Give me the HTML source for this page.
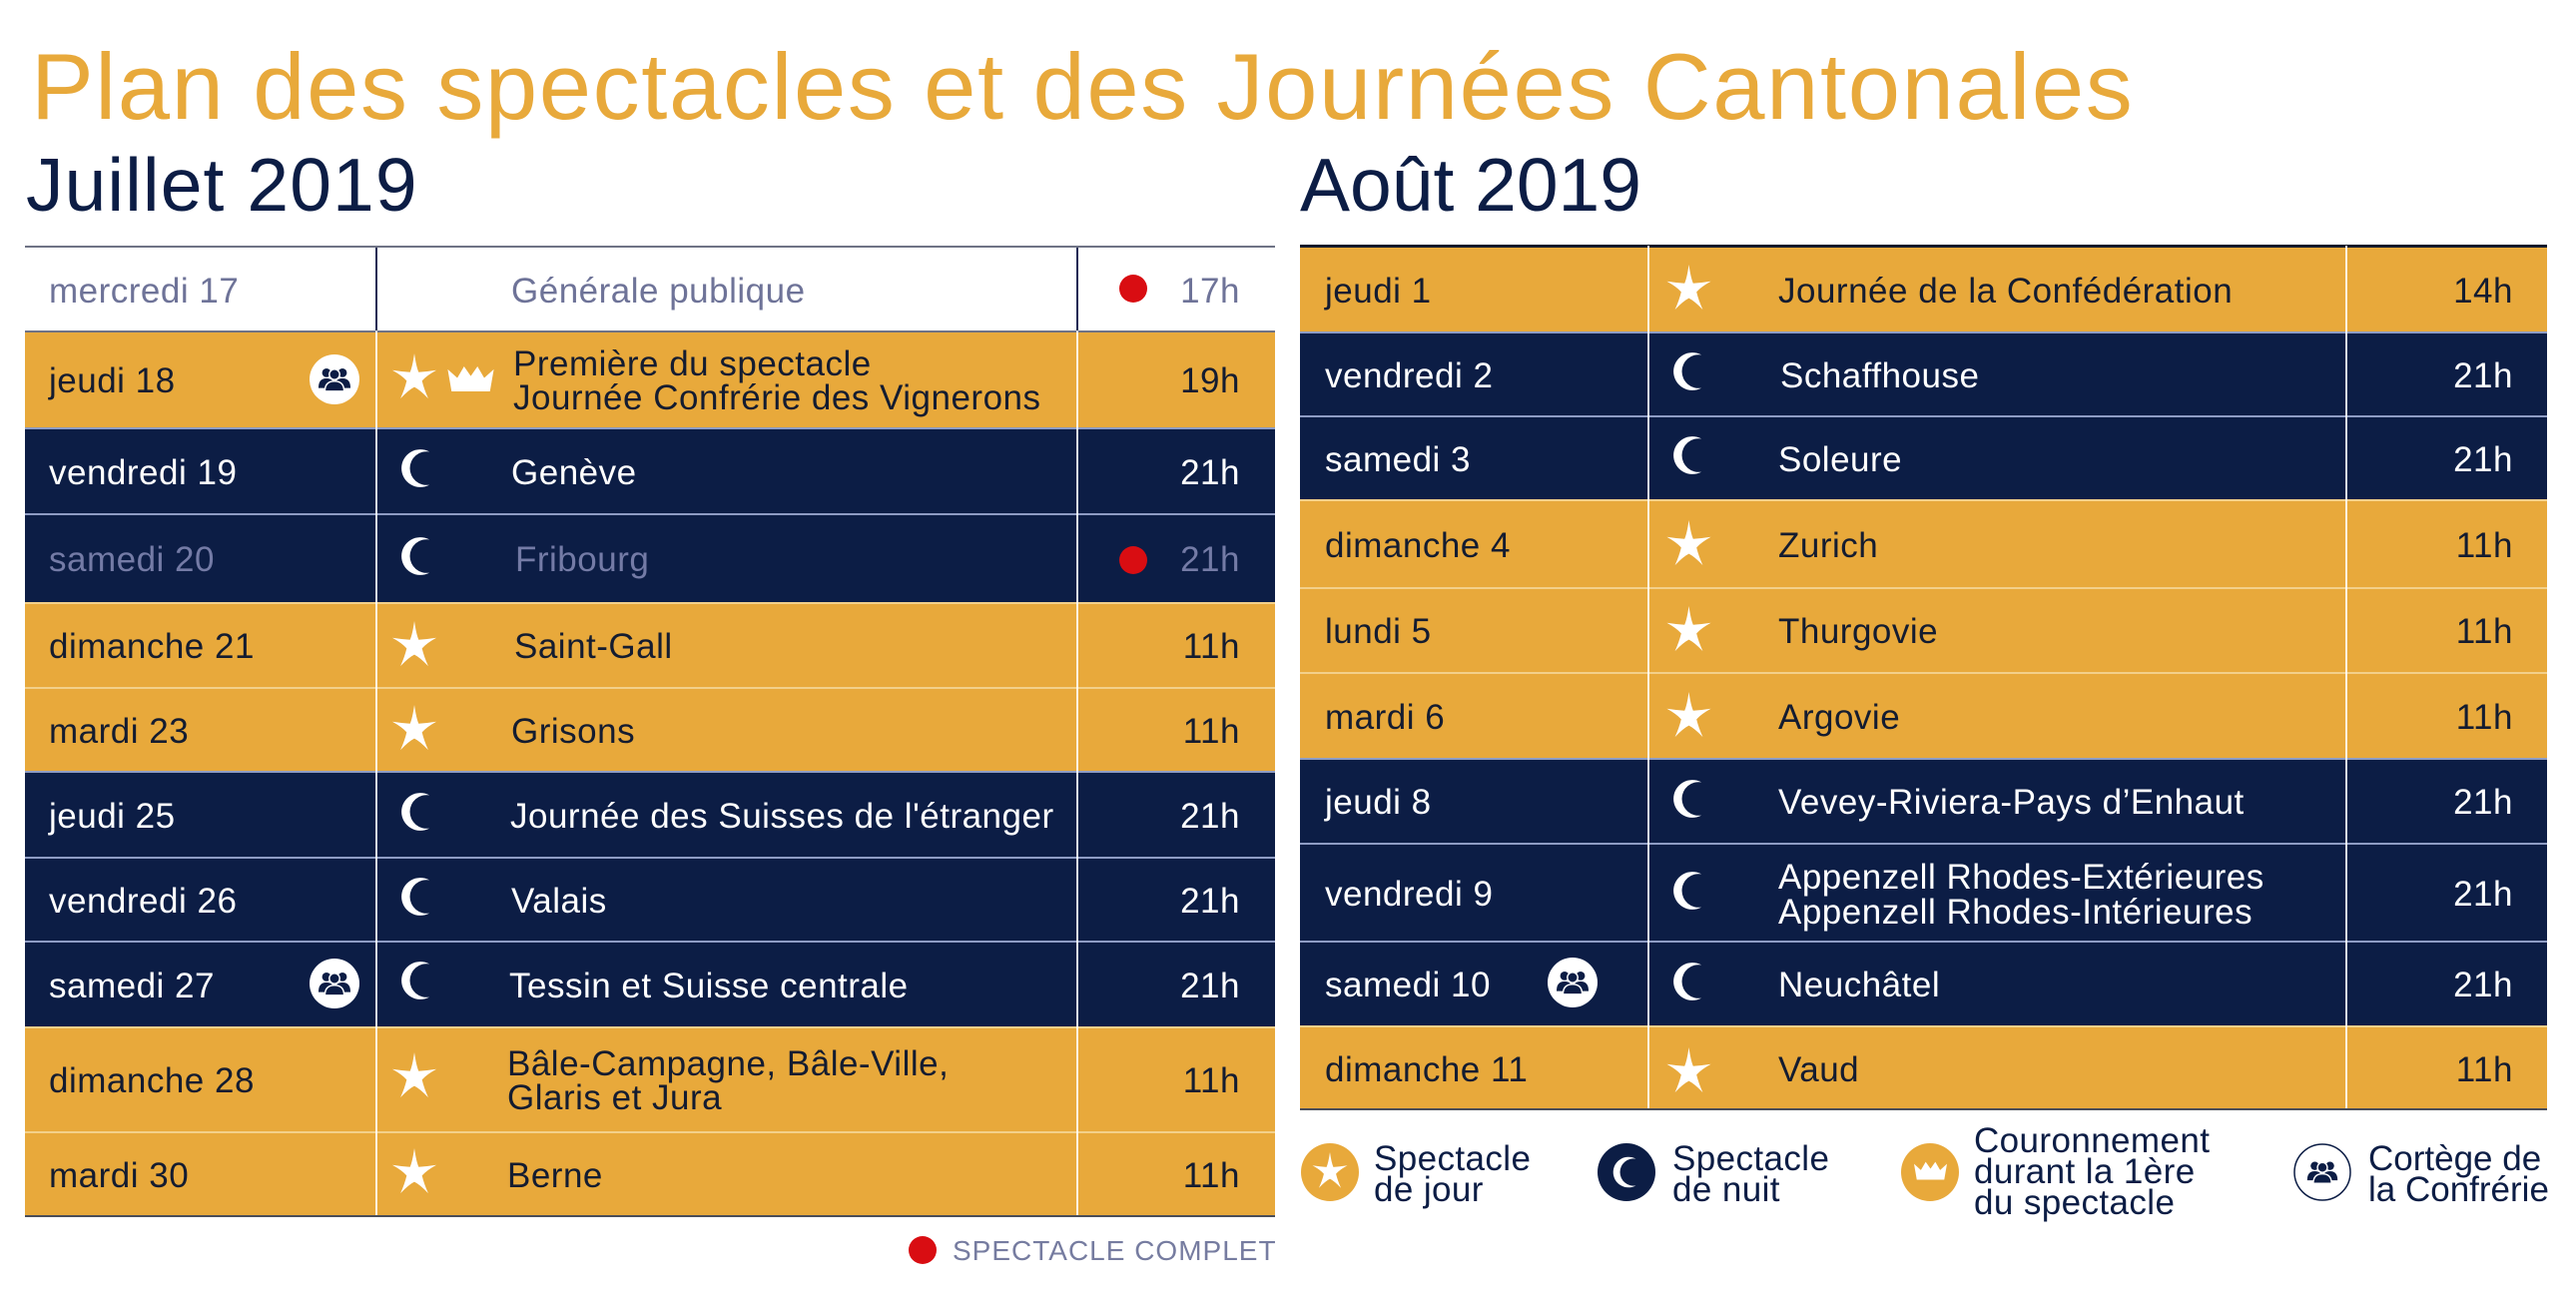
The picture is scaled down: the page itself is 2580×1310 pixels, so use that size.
<!DOCTYPE html>
<html><head><meta charset="utf-8">
<style>
*{box-sizing:border-box}
body{margin:0;width:2580px;height:1310px;background:#fff;position:relative;overflow:hidden;font-family:"Liberation Sans",sans-serif}
.a{position:absolute}
.title{position:absolute;left:31px;top:40px;font-size:94px;line-height:94px;color:#e8a93b;letter-spacing:1.6px;white-space:nowrap}
.month{position:absolute;top:148px;font-size:75px;line-height:75px;color:#0c1d45;white-space:nowrap}
.r{position:absolute;left:25px;width:1252px}
.ra{position:absolute;left:1302px;width:1249px}
.g{background:#e8a93b;color:#141c30;border-top:2px solid #f3d08a}
.n{background:#0c1d45;color:#fff;border-top:2px solid #8e9cc4}
.w{background:#fff;color:#6e7398}
.f{border-top:none}
.x{position:absolute;top:0;bottom:0;display:flex;align-items:center;padding-top:3px;font-size:35px;line-height:34px;letter-spacing:0.5px;white-space:nowrap}
.d{left:24px}
.ra .d{left:25px}
.e{left:487px}
.ra .e{left:479px}
.t{right:35px}
.ra .t{right:34px}
.gr{color:#747ba6}
.v{position:absolute;top:-2px;bottom:0;width:2px;background:rgba(255,255,255,.85)}
.w .v{background:#1d2a55;width:1.5px;top:0}
.ic{position:absolute}
.dot{position:absolute;width:28px;height:28px;border-radius:50%;background:#d90d12}
.lg{position:absolute;font-size:35px;line-height:31px;letter-spacing:0.4px;color:#0c1d45;white-space:nowrap}
</style></head><body>
<svg width="0" height="0" style="position:absolute">
<defs>
<symbol id="star" viewBox="0 0 50 50"><path fill="#fff" d="M25 0 Q27 14 29.5 19.5 Q38 19 48 17.5 Q38 23 33 28.5 Q35 37 39.5 47 Q31 38 25 35 Q19 38 10.5 47 Q15 37 17 28.5 Q12 23 2 17.5 Q12 19 20.5 19.5 Q23 14 25 0Z"/></symbol>
<symbol id="moon" viewBox="0 0 40 40"><path fill="#fff" d="M28.67 4.22 A18 18 0 1 0 28.67 35.78 A16 16 0 1 1 28.67 4.22Z"/></symbol>
<symbol id="crown" viewBox="0 0 48 26"><path fill="#fff" d="M0 3 L10 12 L17 0 L24 10 L31 0 L38 12 L48 3 L44 26 L4 26Z"/></symbol>
<symbol id="ppl" viewBox="0 0 50 50">
<circle cx="15" cy="18" r="5.5" fill="#0c1d45"/><circle cx="35" cy="18" r="5.5" fill="#0c1d45"/>
<path fill="#0c1d45" d="M5 37 C5 28 9 25 15 25 C21 25 25 28 25 37Z"/>
<path fill="#0c1d45" d="M25 37 C25 28 29 25 35 25 C41 25 45 28 45 37Z"/>
<circle cx="25" cy="20" r="6.5" fill="#0c1d45" stroke="#fff" stroke-width="1.8"/>
<path fill="#0c1d45" stroke="#fff" stroke-width="1.8" d="M13 41 C13 32 18 28.5 25 28.5 C32 28.5 37 32 37 41Z"/>
</symbol>
</defs></svg>

<div class="title">Plan des spectacles et des Journées Cantonales</div>
<div class="month" style="left:26px;letter-spacing:1.1px">Juillet 2019</div>
<div class="month" style="left:1302px">Août 2019</div>

<!-- JULY -->
<div class="a" style="left:25px;top:246px;width:1252px;height:2px;background:#6f7385"></div>

<div class="r w f" style="top:248px;height:84px">
 <div class="v" style="left:351px"></div><div class="v" style="left:1053px"></div>
 <div class="x d gr" style="color:#6e7398">mercredi 17</div>
 <div class="x e" style="color:#6e7398">Générale publique</div>
 <div class="dot" style="left:1096px;top:27px"></div>
 <div class="x t" style="color:#6e7398">17h</div>
</div>
<div class="a" style="left:25px;top:331px;width:1252px;height:2px;background:#6f7385"></div>

<div class="r g f" style="top:333px;height:95px">
 <div class="v" style="left:351px"></div><div class="v" style="left:1053px"></div>
 <div class="x d">jeudi 18</div>
 <svg class="ic" style="left:285px;top:22px" width="50" height="50"><circle cx="25" cy="25" r="25" fill="#fff"/><svg x="5" y="4" width="40" height="40"><use href="#ppl"/></svg></svg>
 <svg class="ic" style="left:365px;top:21px" width="50" height="48"><use href="#star"/></svg>
 <svg class="ic" style="left:423px;top:34px" width="47" height="25"><use href="#crown"/></svg>
 <div class="x e" style="left:489px">Première du spectacle<br>Journée Confrérie des Vignerons</div>
 <div class="x t">19h</div>
</div>

<div class="r n" style="top:428px;height:86px">
 <div class="v" style="left:351px"></div><div class="v" style="left:1053px"></div>
 <div class="x d">vendredi 19</div>
 <svg class="ic" style="left:375px;top:18px" width="42" height="42"><use href="#moon"/></svg>
 <div class="x e">Genève</div>
 <div class="x t">21h</div>
</div>

<div class="r n" style="top:514px;height:89px">
 <div class="v" style="left:351px"></div><div class="v" style="left:1053px"></div>
 <div class="x d gr">samedi 20</div>
 <svg class="ic" style="left:375px;top:20px" width="42" height="42"><use href="#moon"/></svg>
 <div class="x e gr" style="left:491px">Fribourg</div>
 <div class="dot" style="left:1096px;top:31px"></div>
 <div class="x t gr">21h</div>
</div>

<div class="r g" style="top:603px;height:85px">
 <div class="v" style="left:351px"></div><div class="v" style="left:1053px"></div>
 <div class="x d">dimanche 21</div>
 <svg class="ic" style="left:365px;top:17px" width="50" height="48"><use href="#star"/></svg>
 <div class="x e" style="left:490px">Saint-Gall</div>
 <div class="x t">11h</div>
</div>

<div class="r g" style="top:688px;height:84px">
 <div class="v" style="left:351px"></div><div class="v" style="left:1053px"></div>
 <div class="x d">mardi 23</div>
 <svg class="ic" style="left:365px;top:16px" width="50" height="48"><use href="#star"/></svg>
 <div class="x e">Grisons</div>
 <div class="x t">11h</div>
</div>

<div class="r n" style="top:772px;height:86px">
 <div class="v" style="left:351px"></div><div class="v" style="left:1053px"></div>
 <div class="x d">jeudi 25</div>
 <svg class="ic" style="left:375px;top:18px" width="42" height="42"><use href="#moon"/></svg>
 <div class="x e" style="left:486px">Journée des Suisses de l'étranger</div>
 <div class="x t">21h</div>
</div>

<div class="r n" style="top:858px;height:84px">
 <div class="v" style="left:351px"></div><div class="v" style="left:1053px"></div>
 <div class="x d">vendredi 26</div>
 <svg class="ic" style="left:375px;top:17px" width="42" height="42"><use href="#moon"/></svg>
 <div class="x e">Valais</div>
 <div class="x t">21h</div>
</div>

<div class="r n" style="top:942px;height:86px">
 <div class="v" style="left:351px"></div><div class="v" style="left:1053px"></div>
 <div class="x d">samedi 27</div>
 <svg class="ic" style="left:285px;top:16px" width="50" height="50"><circle cx="25" cy="25" r="25" fill="#fff"/><svg x="5" y="4" width="40" height="40"><use href="#ppl"/></svg></svg>
 <svg class="ic" style="left:375px;top:17px" width="42" height="42"><use href="#moon"/></svg>
 <div class="x e" style="left:485px">Tessin et Suisse centrale</div>
 <div class="x t">21h</div>
</div>

<div class="r g" style="top:1028px;height:105px">
 <div class="v" style="left:351px"></div><div class="v" style="left:1053px"></div>
 <div class="x d">dimanche 28</div>
 <svg class="ic" style="left:365px;top:24px" width="50" height="48"><use href="#star"/></svg>
 <div class="x e" style="left:483px">Bâle-Campagne, Bâle-Ville,<br>Glaris et Jura</div>
 <div class="x t">11h</div>
</div>

<div class="r g" style="top:1133px;height:85px">
 <div class="v" style="left:351px"></div><div class="v" style="left:1053px"></div>
 <div class="x d">mardi 30</div>
 <svg class="ic" style="left:365px;top:15px" width="50" height="48"><use href="#star"/></svg>
 <div class="x e" style="left:483px">Berne</div>
 <div class="x t">11h</div>
</div>
<div class="a" style="left:25px;top:1217px;width:1252px;height:2px;background:#4a4d58"></div>

<div class="dot" style="left:910px;top:1238px"></div>
<div class="a" style="left:954px;top:1239px;font-size:28px;line-height:28px;letter-spacing:1px;color:#767ca0;white-space:nowrap">SPECTACLE COMPLET</div>

<!-- AUGUST -->
<div class="a" style="left:1302px;top:245px;width:1249px;height:3px;background:#151a2a"></div>

<div class="ra g f" style="top:248px;height:84px">
 <div class="v" style="left:348px"></div><div class="v" style="left:1047px"></div>
 <div class="x d">jeudi 1</div>
 <svg class="ic" style="left:363px;top:17px" width="53" height="48"><use href="#star"/></svg>
 <div class="x e">Journée de la Confédération</div>
 <div class="x t">14h</div>
</div>

<div class="ra n" style="top:332px;height:84px">
 <div class="v" style="left:348px"></div><div class="v" style="left:1047px"></div>
 <div class="x d">vendredi 2</div>
 <svg class="ic" style="left:372px;top:17px" width="42" height="42"><use href="#moon"/></svg>
 <div class="x e" style="left:481px">Schaffhouse</div>
 <div class="x t">21h</div>
</div>

<div class="ra n" style="top:416px;height:84px">
 <div class="v" style="left:348px"></div><div class="v" style="left:1047px"></div>
 <div class="x d">samedi 3</div>
 <svg class="ic" style="left:372px;top:17px" width="42" height="42"><use href="#moon"/></svg>
 <div class="x e">Soleure</div>
 <div class="x t">21h</div>
</div>

<div class="ra g" style="top:500px;height:88px">
 <div class="v" style="left:348px"></div><div class="v" style="left:1047px"></div>
 <div class="x d">dimanche 4</div>
 <svg class="ic" style="left:363px;top:19px" width="53" height="48"><use href="#star"/></svg>
 <div class="x e">Zurich</div>
 <div class="x t">11h</div>
</div>

<div class="ra g" style="top:588px;height:85px">
 <div class="v" style="left:348px"></div><div class="v" style="left:1047px"></div>
 <div class="x d">lundi 5</div>
 <svg class="ic" style="left:363px;top:17px" width="53" height="48"><use href="#star"/></svg>
 <div class="x e">Thurgovie</div>
 <div class="x t">11h</div>
</div>

<div class="ra g" style="top:673px;height:86px">
 <div class="v" style="left:348px"></div><div class="v" style="left:1047px"></div>
 <div class="x d">mardi 6</div>
 <svg class="ic" style="left:363px;top:18px" width="53" height="48"><use href="#star"/></svg>
 <div class="x e">Argovie</div>
 <div class="x t">11h</div>
</div>

<div class="ra n" style="top:759px;height:85px">
 <div class="v" style="left:348px"></div><div class="v" style="left:1047px"></div>
 <div class="x d">jeudi 8</div>
 <svg class="ic" style="left:372px;top:18px" width="42" height="42"><use href="#moon"/></svg>
 <div class="x e">Vevey-Riviera-Pays d’Enhaut</div>
 <div class="x t">21h</div>
</div>

<div class="ra n" style="top:844px;height:98px">
 <div class="v" style="left:348px"></div><div class="v" style="left:1047px"></div>
 <div class="x d">vendredi 9</div>
 <svg class="ic" style="left:372px;top:25px" width="42" height="42"><use href="#moon"/></svg>
 <div class="x e" style="line-height:35px">Appenzell Rhodes-Extérieures<br>Appenzell Rhodes-Intérieures</div>
 <div class="x t">21h</div>
</div>

<div class="ra n" style="top:942px;height:85px">
 <div class="v" style="left:348px"></div><div class="v" style="left:1047px"></div>
 <div class="x d">samedi 10</div>
 <svg class="ic" style="left:248px;top:15px" width="50" height="50"><circle cx="25" cy="25" r="25" fill="#fff"/><svg x="5" y="4" width="40" height="40"><use href="#ppl"/></svg></svg>
 <svg class="ic" style="left:372px;top:18px" width="42" height="42"><use href="#moon"/></svg>
 <div class="x e">Neuchâtel</div>
 <div class="x t">21h</div>
</div>

<div class="ra g" style="top:1027px;height:84px">
 <div class="v" style="left:348px"></div><div class="v" style="left:1047px"></div>
 <div class="x d">dimanche 11</div>
 <svg class="ic" style="left:363px;top:20px" width="53" height="48"><use href="#star"/></svg>
 <div class="x e">Vaud</div>
 <div class="x t">11h</div>
</div>
<div class="a" style="left:1302px;top:1110px;width:1249px;height:2px;background:#4a4d58"></div>

<!-- LEGEND -->
<svg class="ic" style="left:1303px;top:1145px" width="58" height="58"><circle cx="29" cy="29" r="29" fill="#e8a93b"/><svg x="10" y="9" width="38" height="38"><use href="#star"/></svg></svg>
<div class="lg" style="left:1376px;top:1145px">Spectacle<br>de jour</div>

<svg class="ic" style="left:1600px;top:1145px" width="58" height="58"><circle cx="29" cy="29" r="29" fill="#0c1d45"/><svg x="14" y="12" width="34" height="34"><use href="#moon"/></svg></svg>
<div class="lg" style="left:1675px;top:1145px">Spectacle<br>de nuit</div>

<svg class="ic" style="left:1904px;top:1145px" width="58" height="58"><circle cx="29" cy="29" r="29" fill="#e8a93b"/><svg x="13" y="18" width="33" height="19"><use href="#crown"/></svg></svg>
<div class="lg" style="left:1977px;top:1127px">Couronnement<br>durant la 1ère<br>du spectacle</div>

<svg class="ic" style="left:2297px;top:1145px" width="58" height="58"><circle cx="29" cy="29" r="28" fill="#fff" stroke="#0c1d45" stroke-width="1.5"/><svg x="10" y="9" width="38" height="38"><use href="#ppl"/></svg></svg>
<div class="lg" style="left:2372px;top:1145px;letter-spacing:0">Cortège de<br>la Confrérie</div>

</body></html>
